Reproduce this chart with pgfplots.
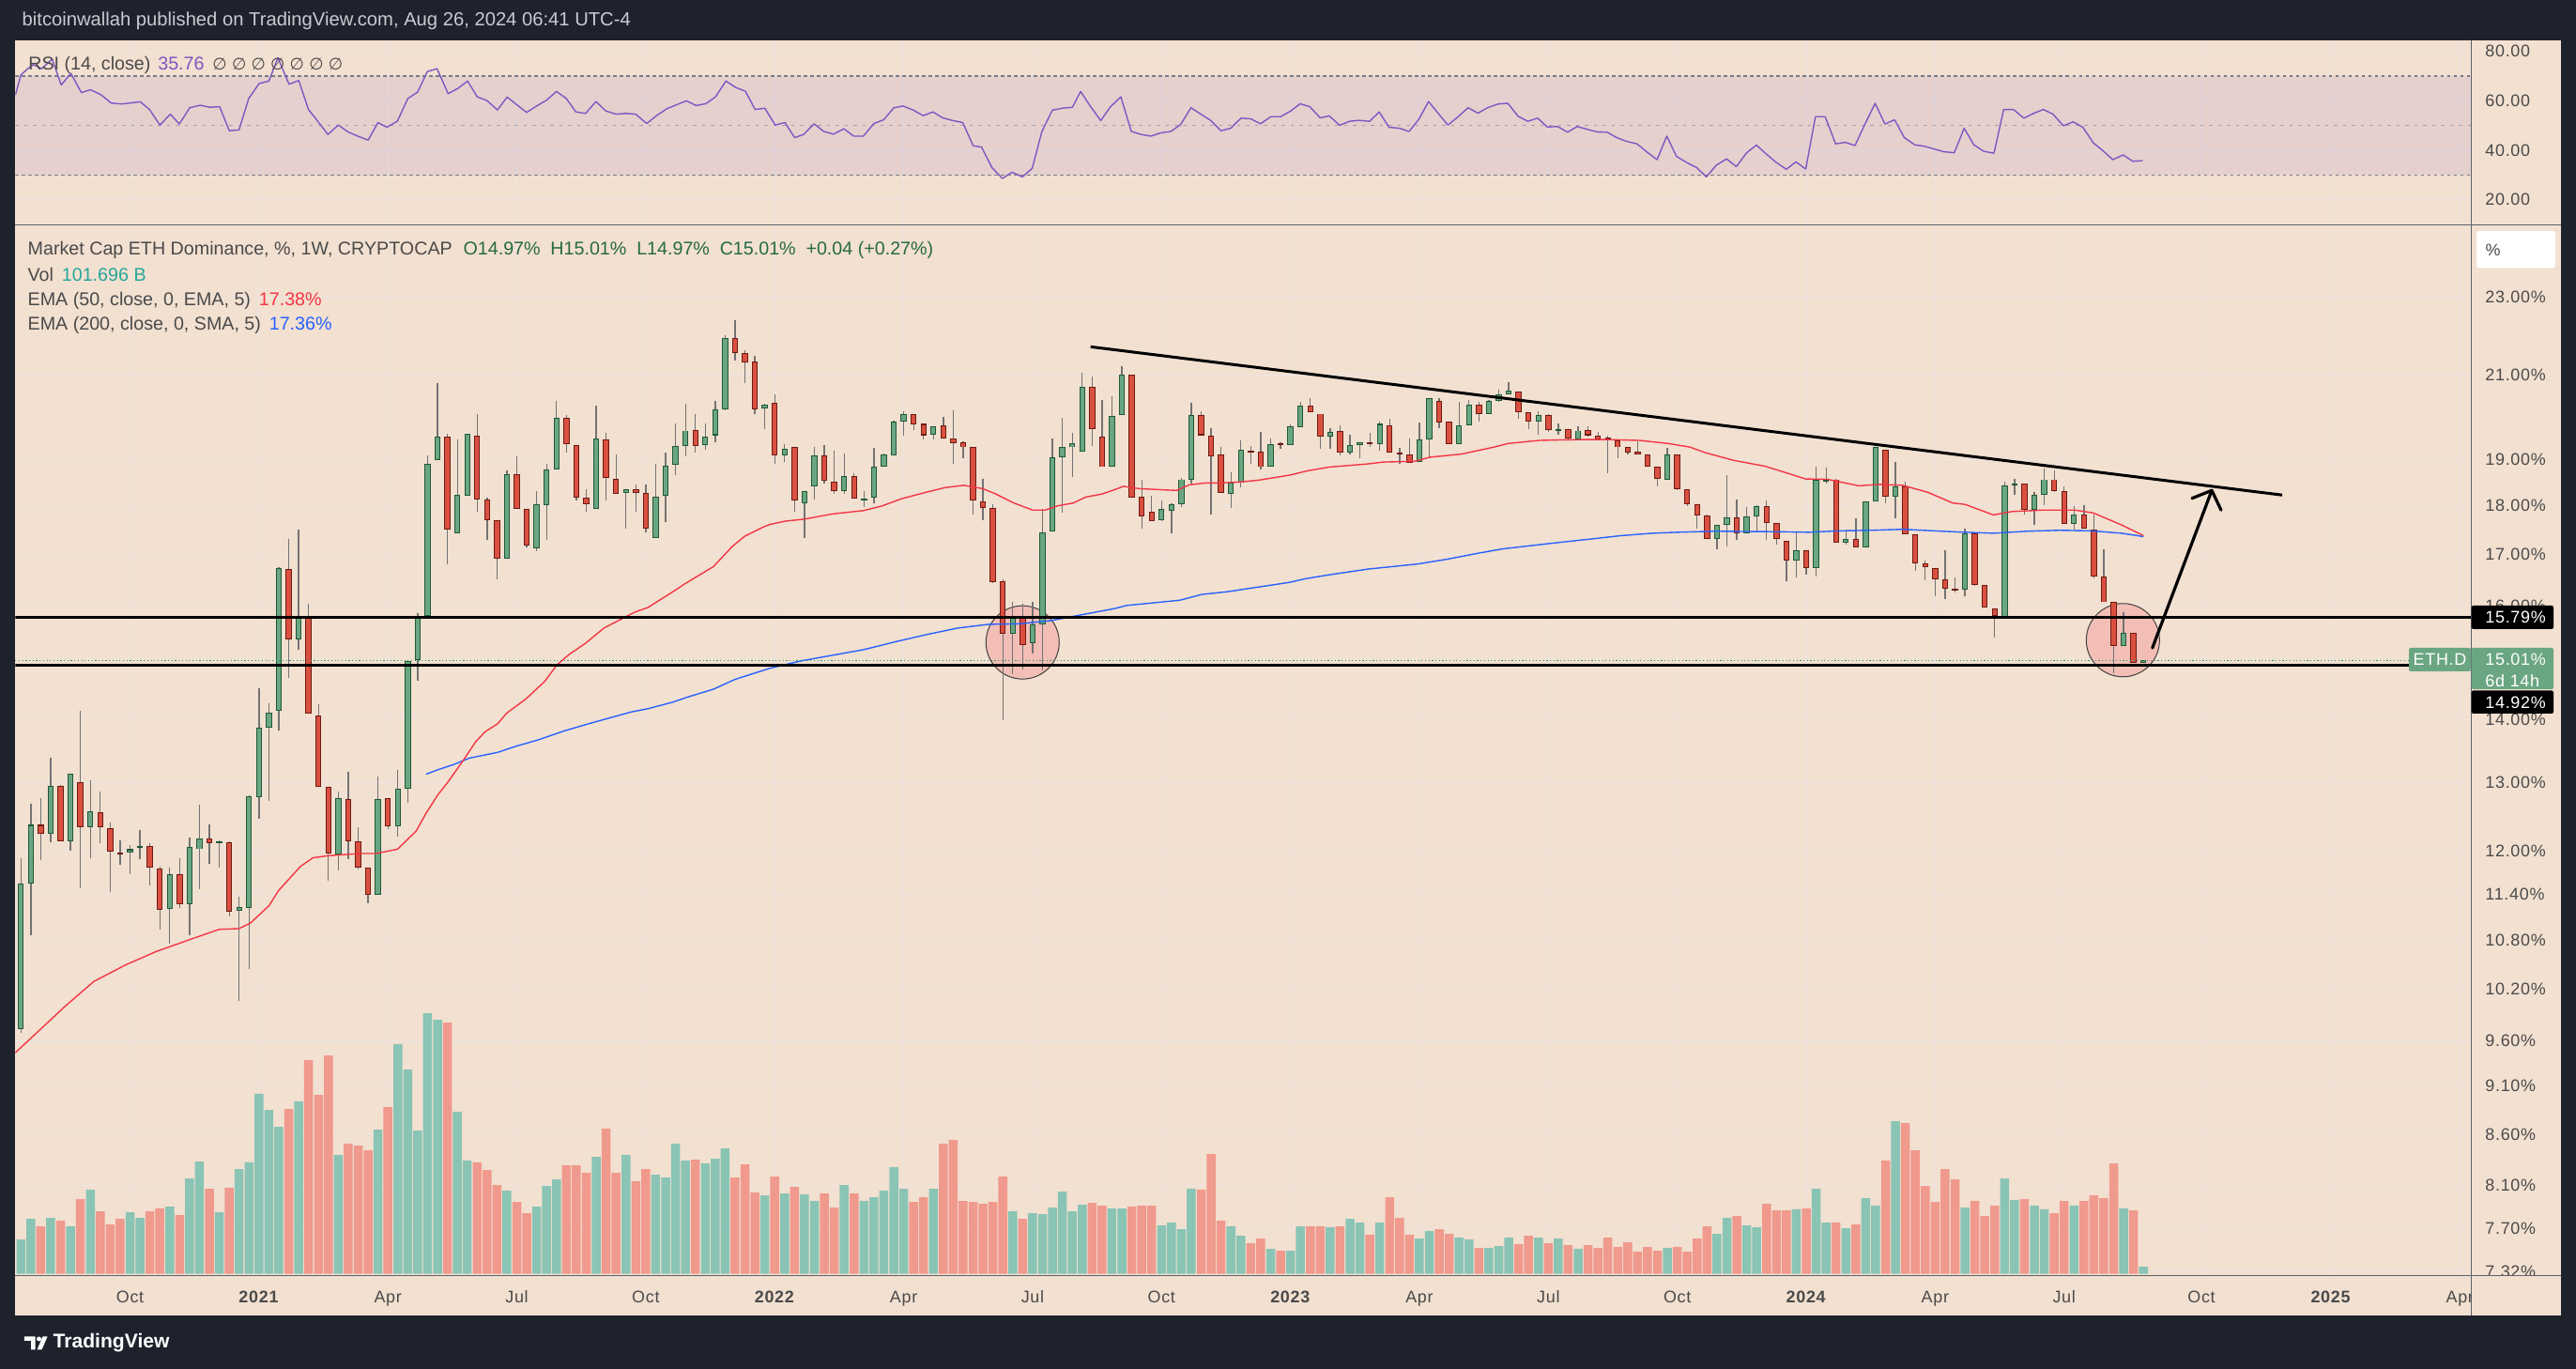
\documentclass[border=0pt]{standalone}
\usepackage{fontspec}
\setmainfont{Liberation Sans}
\newfontfamily\axf[LetterSpace=4]{Liberation Sans}
\newfontfamily\djv{DejaVu Sans}
\usepackage{pgfplots}
\pgfplotsset{compat=1.18}
\usepackage{pgfplotstable}

\definecolor{tvdark}{RGB}{30,34,45}
\definecolor{peach}{RGB}{242,224,208}
\definecolor{gridc}{RGB}{236,229,227}
\definecolor{sepc}{RGB}{94,96,107}
\definecolor{labc}{RGB}{74,74,74}
\definecolor{upfill}{RGB}{107,166,130}
\definecolor{upline}{RGB}{30,90,55}
\definecolor{dnfill}{RGB}{218,80,64}
\definecolor{dnline}{RGB}{110,26,18}
\definecolor{wickc}{RGB}{115,115,115}
\definecolor{volup}{RGB}{138,196,181}
\definecolor{voldn}{RGB}{240,153,141}
\definecolor{emared}{RGB}{242,54,69}
\definecolor{emablue}{RGB}{41,98,255}
\definecolor{rsic}{RGB}{126,87,194}
\definecolor{circfill}{RGB}{242,190,182}
\definecolor{txtgreen}{RGB}{40,150,110}
\definecolor{ohlcc}{RGB}{38,105,68}
\definecolor{voltxt}{RGB}{38,166,154}
\definecolor{hdrc}{RGB}{200,203,210}
\definecolor{dashc}{RGB}{120,123,134}
\definecolor{dashl}{RGB}{160,160,168}

% weekly candles: index, open, high, low, close (%), volume (B)
\pgfplotstableread{
i o h l c v
1 9.73 11.90 9.69 11.55 486
2 11.55 12.68 10.86 12.37 778
3 12.37 12.77 11.87 12.24 672
4 12.24 13.39 12.12 12.95 791
5 12.95 12.97 12.13 12.13 751
6 12.13 13.14 12.00 13.14 672
7 13.01 14.14 11.48 12.33 1056
8 12.33 13.04 11.90 12.57 1189
9 12.56 12.86 12.11 12.33 884
10 12.32 12.40 11.43 11.99 698
11 11.98 12.14 11.80 11.96 778
12 11.97 12.08 11.67 12.02 871
13 12.04 12.29 11.88 12.06 791
14 12.06 12.10 11.52 11.76 884
15 11.75 11.78 10.94 11.19 924
16 11.21 11.77 10.76 11.67 950
17 11.67 11.90 11.22 11.27 831
18 11.27 12.19 10.87 12.05 1348
19 12.02 12.66 11.47 12.17 1587
20 12.17 12.37 11.82 12.11 1202
21 12.11 12.15 11.77 12.13 871
22 12.12 12.13 11.11 11.17 1216
23 11.18 11.37 10.06 11.23 1481
24 11.22 12.81 10.44 12.79 1574
25 12.78 14.53 12.46 13.87 2542
26 13.87 14.27 12.72 14.12 2316
27 14.14 16.75 13.82 16.73 2077
28 16.71 17.32 14.71 15.38 2329
29 15.38 17.50 15.19 15.82 2435
30 15.82 16.04 14.10 14.10 3019
31 14.07 14.25 12.94 12.94 2528
32 12.94 12.94 11.58 11.96 3085
33 11.95 12.86 11.72 12.76 1680
34 12.75 13.16 11.88 12.13 1839
35 12.13 12.33 11.74 11.77 1812
36 11.76 11.76 11.28 11.39 1746
37 11.39 13.10 11.39 12.75 2038
38 12.76 12.76 12.31 12.35 2356
39 12.35 13.19 12.20 12.91 3244
40 12.91 15.01 12.69 15.00 2886
41 15.01 15.87 14.66 15.82 2024
42 15.82 19.10 15.82 18.92 3682
43 18.99 20.80 18.99 19.52 3589
44 19.52 19.59 16.81 17.51 3549
45 17.43 19.46 17.43 18.24 2290
46 18.22 19.60 18.22 19.60 1600
47 19.56 20.05 17.88 18.14 1574
48 18.14 18.17 17.29 17.70 1467
49 17.70 17.70 16.51 16.92 1255
50 16.92 18.76 16.92 18.69 1176
51 18.69 19.08 17.94 17.94 1017
52 17.94 17.94 17.14 17.18 857
53 17.13 18.31 17.06 18.04 950
54 18.02 18.91 17.29 18.79 1242
55 18.79 20.36 18.79 19.97 1335
56 19.97 20.02 19.16 19.35 1534
57 19.34 19.34 18.11 18.17 1534
58 18.17 18.35 17.88 18.04 1428
59 17.94 20.25 17.94 19.49 1653
60 19.47 19.62 18.11 18.61 2051
61 18.59 19.13 18.26 18.26 1428
62 18.28 18.36 17.53 18.36 1680
63 18.36 18.45 17.88 18.28 1308
64 18.28 18.46 17.45 17.53 1481
65 17.34 18.92 17.34 18.20 1401
66 18.22 19.16 17.66 18.88 1361
67 18.90 19.82 18.66 19.32 1839
68 19.32 20.29 19.08 19.67 1600
69 19.68 20.06 19.16 19.32 1613
70 19.34 19.84 19.23 19.52 1560
71 19.56 20.36 19.41 20.15 1627
72 20.15 21.99 20.13 21.92 1772
73 21.92 22.39 21.36 21.53 1361
74 21.55 21.60 20.79 21.30 1547
75 21.32 21.48 20.06 20.15 1149
76 20.18 20.30 19.70 20.28 1109
77 20.31 20.51 18.92 19.11 1375
78 19.11 19.36 18.96 19.25 1136
79 19.28 19.30 17.88 18.12 1229
80 18.06 18.32 17.34 18.32 1123
81 18.41 19.28 18.14 19.10 1030
82 19.11 19.33 18.47 18.53 1136
83 18.51 19.20 18.26 18.31 937
84 18.31 19.15 18.26 18.64 1255
85 18.64 18.71 18.15 18.15 1136
86 18.15 18.31 17.98 18.16 1030
87 18.17 19.26 18.06 18.86 1083
88 18.86 19.14 18.86 19.13 1176
89 19.11 19.89 19.11 19.88 1507
90 19.88 20.11 19.56 20.04 1202
91 20.04 20.05 19.69 19.81 1017
92 19.82 19.82 19.47 19.56 1083
93 19.58 19.77 19.46 19.77 1202
94 19.79 19.98 19.49 19.49 1839
95 19.49 20.14 18.92 19.38 1892
96 19.41 19.43 19.03 19.28 1030
97 19.28 19.28 17.81 18.11 1017
98 18.09 18.58 17.70 17.96 990
99 17.96 18.04 16.43 16.46 1017
100 16.48 16.51 13.99 15.49 1375
101 15.49 16.07 14.76 15.78 884
102 15.78 16.04 14.85 15.29 778
103 15.31 16.08 15.13 15.66 857
104 15.66 17.94 14.83 17.45 844
105 17.47 19.48 17.47 19.06 937
106 19.07 19.96 17.85 19.28 1162
107 19.28 19.62 18.63 19.37 884
108 19.19 21.05 19.19 20.70 977
109 20.70 20.95 19.32 19.70 1003
110 19.52 20.38 18.84 18.84 964
111 18.86 20.47 18.86 20.01 924
112 20.02 21.22 20.02 20.99 924
113 20.99 21.00 18.17 18.17 950
114 18.19 18.56 17.53 17.78 964
115 17.87 18.21 17.68 17.68 964
116 17.70 18.11 17.68 17.94 685
117 17.90 18.05 17.43 18.04 725
118 18.04 18.60 17.98 18.57 632
119 18.57 20.31 18.47 20.02 1202
120 20.02 20.11 19.54 19.56 1189
121 19.54 19.72 17.82 19.08 1693
122 19.13 19.28 18.28 18.28 751
123 18.26 18.72 17.96 18.49 672
124 18.49 19.45 18.40 19.23 539
125 19.21 19.31 18.92 19.19 433
126 19.19 19.64 18.79 18.84 499
127 18.86 19.49 18.86 19.36 354
128 19.37 19.41 19.25 19.34 327
129 19.33 19.81 19.33 19.77 327
130 19.75 20.34 19.75 20.25 672
131 20.26 20.43 20.09 20.09 672
132 20.06 20.06 19.25 19.52 672
133 19.52 19.73 19.25 19.63 659
134 19.65 19.78 19.10 19.16 672
135 19.17 19.57 19.12 19.34 778
136 19.34 19.41 19.03 19.41 725
137 19.40 19.62 19.29 19.36 553
138 19.36 19.87 19.21 19.82 725
139 19.79 19.94 19.16 19.16 1083
140 19.16 19.26 18.92 19.13 791
141 19.13 19.48 18.94 18.94 553
142 18.96 19.85 18.96 19.47 499
143 19.47 20.43 19.05 20.42 606
144 20.37 20.42 19.73 19.86 632
145 19.88 19.88 19.36 19.36 566
146 19.36 20.34 19.36 19.79 513
147 19.79 20.39 19.79 20.28 486
148 20.28 20.34 19.88 20.04 367
149 20.04 20.38 20.04 20.37 367
150 20.37 20.64 20.34 20.53 393
151 20.51 20.82 20.51 20.60 513
152 20.58 20.58 19.95 20.09 420
153 20.09 20.09 19.70 19.88 539
154 19.88 20.11 19.57 20.02 513
155 20.02 20.06 19.63 19.69 433
156 19.70 19.82 19.57 19.71 499
157 19.70 19.71 19.44 19.48 407
158 19.47 19.76 19.45 19.67 354
159 19.68 19.76 19.52 19.56 407
160 19.56 19.63 19.46 19.47 367
161 19.50 19.56 18.71 19.48 513
162 19.44 19.46 19.03 19.28 380
163 19.28 19.29 19.13 19.17 446
164 19.18 19.42 19.13 19.13 314
165 19.13 19.13 18.84 18.86 380
166 18.86 18.86 18.42 18.58 327
167 18.57 19.26 18.57 19.13 367
168 19.13 19.13 18.34 18.36 380
169 18.36 18.36 18.00 18.03 314
170 18.04 18.04 17.53 17.80 499
171 17.80 17.82 17.32 17.32 672
172 17.32 17.61 17.11 17.61 566
173 17.61 18.66 17.16 17.76 791
174 17.76 18.13 17.29 17.42 818
175 17.42 17.98 17.42 17.78 685
176 17.78 18.01 17.45 18.00 659
177 18.00 18.12 17.29 17.64 990
178 17.64 17.64 17.19 17.31 897
179 17.28 17.28 16.47 16.88 897
180 16.88 17.45 16.55 17.09 911
181 17.09 17.09 16.60 16.73 924
182 16.73 18.85 16.56 18.56 1202
183 18.55 18.82 18.48 18.57 725
184 18.57 18.58 17.24 17.24 725
185 17.24 17.51 17.19 17.32 645
186 17.32 17.73 17.15 17.15 698
187 17.15 18.10 17.15 18.09 1070
188 18.09 19.30 18.09 19.29 964
189 19.23 19.23 18.05 18.19 1600
190 18.19 18.95 17.73 18.42 2157
191 18.42 18.51 17.40 17.40 2130
192 17.40 17.40 16.67 16.82 1746
193 16.82 16.87 16.50 16.74 1242
194 16.73 16.73 16.18 16.51 1017
195 16.51 17.08 16.14 16.33 1481
196 16.33 16.54 16.25 16.30 1335
197 16.31 17.52 16.18 17.43 937
198 17.43 17.44 16.39 16.40 1030
199 16.40 16.41 15.97 15.97 818
200 15.96 15.96 15.42 15.81 964
201 15.80 18.51 15.80 18.44 1348
202 18.46 18.58 18.24 18.48 1043
203 18.47 18.47 17.81 17.91 1056
204 17.91 18.29 17.60 18.24 964
205 18.24 18.81 18.01 18.57 911
206 18.57 18.76 18.29 18.31 857
207 18.31 18.42 17.62 17.62 1030
208 17.62 18.00 17.51 17.82 964
209 17.82 18.02 17.52 17.52 1030
210 17.51 17.82 16.52 16.57 1109
211 16.57 17.10 16.07 16.07 1070
212 16.08 16.08 14.78 15.26 1560
213 15.26 15.89 15.26 15.51 924
214 15.51 15.51 14.96 14.96 897
215 14.97 15.01 14.97 15.01 102
}\candles

\pgfplotsset{
  tvpane/.style={scale only axis, width=26.16cm, anchor=south west,
    xmin=0.432, xmax=248.04, axis line style={draw=none},
    major tick length=0pt, minor tick length=0pt, tick style={draw=none},
    tick label style={font=\axf\fontsize{5.1}{6}\selectfont, text=labc},
    major grid style={draw=gridc, line width=0.01cm}},
  mainbox/.style={tvpane, at={(0.163cm,0.994cm)}, height=11.193cm},
  datex/.style={xtick={12,25,38,51,64,77,90,103,116,129,142,155,168,181,194,207,220.85,233.9,246.9}},
  upc/.style={restrict expr to domain={\thisrow{c}-\thisrow{o}}{0:1000}},
  dnc/.style={restrict expr to domain={\thisrow{c}-\thisrow{o}}{-1000:-0.00001}},
  nomark/.style={only marks, mark=none, mark size=0pt, mark options={draw=none, fill=none}},
}

\begin{document}
\begin{tikzpicture}
\useasboundingbox (0,0) rectangle (27.44,14.58);
\fill[tvdark] (0,0) rectangle (27.44,14.58);
\fill[peach] (0.163,0.57) rectangle (27.277,14.146);

% ---------- RSI pane ----------
\begin{axis}[tvpane, at={(0.163cm,12.187cm)}, height=1.959cm,
  ymin=9.9, ymax=84.3, datex, xticklabels={},
  ytick={20,40,60,80}, yticklabels={20.00,40.00,60.00,80.00},
  yticklabel pos=right, yticklabel style={anchor=west, inner sep=0pt, xshift=0.144cm},
  grid=major]
\addplot[draw=none, fill=rsic, fill opacity=0.11]
  coordinates {(0.432,30) (248.04,30) (248.04,70) (0.432,70) (0.432,30)};
\addplot[dashc, line width=0.011cm, dash pattern=on 0.035cm off 0.035cm]
  coordinates {(0.432,70) (248.04,70)};
\addplot[dashc, line width=0.011cm, dash pattern=on 0.035cm off 0.035cm]
  coordinates {(0.432,30) (248.04,30)};
\addplot[dashl, line width=0.01cm, dash pattern=on 0.035cm off 0.06cm]
  coordinates {(0.432,50) (248.04,50)};
\addplot[rsic, line width=0.014cm, line join=round] coordinates {
(0.44,62.3)(1.0,70.5)(1.7,73.0)(2.26,74.6)(3.1,73.0)(3.8,75.6)(4.15,76.9)(5.06,66.4)(6.04,71.1)(7.09,63.3)
(8.0,64.5)(9.05,62.5)(10.1,59.1)(11.15,58.7)(12.2,59.2)(13.04,59.6)(13.96,56.5)(15.01,50.2)(16.06,54.6)(16.97,50.6)
(18.02,57.2)(19.07,58.2)(20.05,57.4)(21.03,57.6)(22.01,47.9)(22.99,48.2)(23.97,61.0)(25.02,67.0)(26.0,68.0)(26.91,77.4)
(28.03,66.7)(29.01,68.2)(29.99,56.5)(30.97,51.5)(31.95,46.4)(33.0,50.2)(33.98,47.4)(34.96,45.7)(36.01,44.1)(37.0,51.2)
(37.9,49.3)(38.96,51.8)(40.01,60.9)(40.99,63.5)(41.97,71.8)(42.95,73.0)(44.07,62.9)(45.05,65.0)(46.03,68.0)(47.01,61.6)
(47.99,60.1)(49.04,56.3)(50.02,61.5)(51.0,58.4)(51.98,55.3)(52.96,57.8)(54.01,60.3)(54.99,63.8)(55.97,61.0)(56.95,55.5)
(57.93,54.9)(58.98,59.7)(59.96,55.9)(61.01,54.6)(61.99,54.9)(62.97,54.6)(64.1,50.8)(65.08,54.0)(66.13,56.8)(67.11,58.4)
(68.09,60.0)(69.07,58.1)(70.05,58.8)(71.03,61.6)(72.08,68.0)(73.06,65.4)(74.04,63.9)(75.02,56.5)(76.0,57.0)(77.05,50.2)
(78.03,51.2)(79.01,45.1)(79.92,46.4)(80.97,50.7)(81.95,47.6)(82.93,46.5)(83.98,48.7)(84.96,45.7)(85.94,45.7)(86.99,50.8)
(87.97,52.3)(89.03,57.2)(89.94,57.9)(90.99,56.2)(91.97,54.0)(92.95,55.5)(93.93,53.1)(94.98,52.0)(95.96,51.2)(97.01,41.8)
(97.85,41.3)(98.9,33.0)(99.95,28.6)(100.93,31.1)(101.98,29.2)(102.96,32.7)(103.94,47.6)(104.99,56.2)(105.97,57.0)(107.02,57.4)
(107.84,63.8)(108.82,57.8)(109.87,52.0)(110.85,57.6)(111.9,61.6)(112.95,47.6)(113.93,46.4)(114.91,45.7)(115.89,47.0)(116.94,47.6)
(117.92,50.4)(118.97,57.2)(119.96,54.6)(120.94,52.1)(121.99,47.9)(122.97,48.9)(124.02,53.0)(125.0,52.7)(125.98,50.7)(127.03,53.6)
(128.01,53.6)(128.99,55.8)(129.97,58.8)(130.95,57.6)(132.0,53.1)(132.91,53.9)(133.96,50.1)(134.94,51.7)(135.92,52.1)(136.97,51.7)
(137.95,55.5)(138.93,49.3)(139.98,48.9)(140.96,47.6)(141.94,52.5)(142.92,59.7)(143.9,54.9)(144.88,50.2)(145.94,53.7)(146.91,57.2)
(147.9,55.0)(148.88,57.2)(149.93,58.7)(150.91,59.0)(151.96,53.7)(152.94,51.7)(153.92,53.0)(154.9,49.4)(155.95,49.6)(156.93,47.3)
(157.91,49.6)(158.89,48.5)(159.94,47.4)(160.92,47.3)(161.9,45.1)(162.88,43.6)(163.93,42.6)(164.91,39.4)(165.96,36.2)(166.94,45.7)
(167.92,37.5)(168.97,35.0)(169.95,33.0)(170.93,29.2)(171.92,33.9)(172.97,36.5)(173.95,33.4)(175.0,39.0)(175.98,42.1)(176.96,38.5)
(177.94,35.2)(178.99,32.3)(179.97,35.3)(180.95,32.4)(181.93,53.6)(182.91,53.6)(183.96,42.6)(184.94,43.2)(185.92,41.9)(186.9,50.4)
(187.95,59.0)(188.93,50.6)(189.91,52.3)(190.89,45.1)(191.94,42.2)(192.92,41.6)(193.9,40.5)(194.88,39.4)(195.93,39.0)(196.92,48.9)
(197.9,42.2)(198.88,39.6)(199.93,38.8)(200.91,56.5)(201.89,56.5)(202.94,53.0)(203.92,54.9)(204.9,56.5)(205.88,54.6)(206.93,49.9)
(207.91,51.5)(208.89,49.3)(209.94,43.0)(210.92,39.8)(211.9,36.2)(212.96,38.1)(213.94,35.5)(214.91,35.8)};
\end{axis}

% ---------- main pane: grid and labels ----------
\begin{axis}[ymode=log, mainbox, ymin=7.2825, ymax=25.05, datex,
  xticklabels={Oct,\textbf{2021},Apr,Jul,Oct,\textbf{2022},Apr,Jul,Oct,\textbf{2023},Apr,Jul,Oct,\textbf{2024},Apr,Jul,Oct,\textbf{2025},Apr},
  xticklabel style={anchor=base, inner sep=0pt, yshift=-0.289cm},
  ytick={7.32,7.7,8.1,8.6,9.1,9.6,10.2,10.8,11.4,12,13,14,16,17,18,19,21,23},
  yticklabels={7.32\%,7.70\%,8.10\%,8.60\%,9.10\%,9.60\%,10.20\%,10.80\%,11.40\%,12.00\%,13.00\%,14.00\%,16.00\%,17.00\%,18.00\%,19.00\%,21.00\%,23.00\%},
  yticklabel pos=right, yticklabel style={anchor=west, inner sep=0pt, xshift=0.144cm},
  grid=major]
\addplot[draw=none] coordinates {(1,10)};
\end{axis}

% ---------- volume ----------
\begin{axis}[mainbox, ymin=-25, ymax=14817, xtick=\empty, ytick=\empty]
\addplot[ybar, bar width=0.9, fill=volup, draw=none, upc] table[x=i, y=v] {\candles};
\addplot[ybar, bar width=0.9, fill=voldn, draw=none, dnc] table[x=i, y=v] {\candles};
\end{axis}

% ---------- candles, averages, drawings ----------
\begin{axis}[ymode=log, mainbox, ymin=7.2825, ymax=25.05, xtick=\empty, ytick=\empty, clip marker paths=true]
\addplot[only marks, mark=*, mark size=11.1pt, mark options={fill=circfill, draw=black!75, line width=0.01cm}]
  coordinates {(101.99,15.33) (212.93,15.37)};
% wicks
\addplot[nomark, error bars/.cd, y dir=minus, y explicit, error mark=none,
  error bar style={line width=0.013cm, draw=wickc}]
  table[x=i, y=h, y error minus expr={\thisrow{h}-\thisrow{l}}] {\candles};
% rising bodies
\addplot[nomark, upc, error bars/.cd, y dir=minus, y explicit, error mark=none,
  error bar style={line width=0.064cm, draw=upline}]
  table[x=i, y=c, y error minus expr={max(\thisrow{c}-\thisrow{o},0.0022*\thisrow{c})}] {\candles};
\addplot[nomark, upc, error bars/.cd, y dir=minus, y explicit, error mark=none,
  error bar style={line width=0.044cm, draw=upfill}]
  table[x=i, y expr={\thisrow{c}/1.0011}, y error minus expr={max(0,\thisrow{c}/1.0011-\thisrow{o}*1.0011)}] {\candles};
% falling bodies
\addplot[nomark, dnc, error bars/.cd, y dir=minus, y explicit, error mark=none,
  error bar style={line width=0.064cm, draw=dnline}]
  table[x=i, y=o, y error minus expr={max(\thisrow{o}-\thisrow{c},0.0022*\thisrow{o})}] {\candles};
\addplot[nomark, dnc, error bars/.cd, y dir=minus, y explicit, error mark=none,
  error bar style={line width=0.044cm, draw=dnfill}]
  table[x=i, y expr={\thisrow{o}/1.0011}, y error minus expr={max(0,\thisrow{o}/1.0011-\thisrow{c}*1.0011)}] {\candles};
% EMA 200
\addplot[emablue, line width=0.014cm] coordinates {
(41.86,13.13)(43.06,13.20)(44.64,13.28)(46.22,13.38)(49.05,13.47)(50.95,13.57)(53.16,13.67)(55.68,13.81)(58.20,13.93)(60.41,14.03)
(62.62,14.13)(64.20,14.18)(66.72,14.29)(68.30,14.38)(70.82,14.51)(73.03,14.68)(76.50,14.87)(79.66,15.00)(82.81,15.10)(85.97,15.20)
(89.12,15.34)(92.28,15.47)(95.43,15.59)(98.59,15.66)(101.74,15.67)(104.90,15.73)(108.05,15.84)(111.21,15.95)(112.47,16.01)(116.25,16.08)
(117.84,16.11)(120.05,16.22)(122.57,16.27)(125.73,16.36)(128.88,16.45)(130.46,16.52)(132.67,16.59)(136.77,16.71)(141.82,16.81)(144.66,16.90)
(147.81,17.02)(150.33,17.11)(156.01,17.24)(159.17,17.31)(162.32,17.38)(165.48,17.43)(168.00,17.45)(171.79,17.47)(178.10,17.46)(181.25,17.45)
(184.41,17.48)(187.56,17.49)(190.72,17.51)(195.76,17.46)(197.03,17.45)(199.86,17.43)(203.34,17.47)(206.49,17.49)(209.65,17.48)(212.80,17.43)
(215.01,17.36)};
% EMA 50
\addplot[emared, line width=0.014cm] coordinates {
(0.40,9.46)(2.99,9.73)(5.51,10.00)(8.35,10.29)(11.51,10.49)(14.66,10.66)(17.82,10.80)(20.97,10.94)(22.99,10.95)(24.13,11.02)
(26.02,11.25)(26.97,11.45)(29.18,11.78)(30.44,11.90)(32.02,11.93)(35.17,11.96)(36.75,11.96)(38.96,12.02)(40.85,12.28)(41.80,12.53)
(43.06,12.82)(44.01,13.00)(45.58,13.34)(46.85,13.64)(47.79,13.80)(49.05,13.93)(50.00,14.11)(51.89,14.34)(53.79,14.64)(55.05,14.93)
(56.31,15.12)(57.89,15.31)(59.78,15.59)(61.99,15.80)(62.94,15.89)(64.20,15.97)(66.72,16.27)(67.99,16.43)(70.82,16.76)(72.72,17.16)
(73.98,17.37)(75.87,17.56)(76.50,17.61)(78.08,17.68)(79.97,17.72)(82.81,17.83)(85.97,17.90)(87.86,18.00)(89.75,18.15)(92.28,18.29)
(94.17,18.39)(96.06,18.44)(97.95,18.37)(99.22,18.26)(101.11,18.06)(103.00,17.91)(104.26,17.91)(105.53,18.00)(107.10,18.06)(108.37,18.19)
(109.94,18.25)(111.21,18.34)(112.15,18.42)(113.73,18.37)(116.25,18.34)(117.52,18.33)(118.78,18.45)(120.36,18.49)(121.62,18.49)(123.83,18.51)
(125.73,18.55)(128.88,18.66)(130.77,18.76)(132.98,18.84)(136.77,18.91)(138.35,18.95)(141.50,18.97)(143.08,19.06)(146.23,19.13)(149.39,19.28)
(150.96,19.37)(154.12,19.44)(156.01,19.45)(158.53,19.46)(161.06,19.46)(164.21,19.44)(167.05,19.37)(169.26,19.29)(170.84,19.16)(173.68,18.99)
(176.83,18.86)(178.73,18.73)(180.93,18.58)(183.14,18.57)(186.30,18.43)(188.51,18.46)(190.71,18.44)(193.24,18.29)(195.76,18.06)(197.03,18.03)
(199.86,17.81)(201.76,17.88)(204.91,17.91)(208.07,17.91)(209.96,17.85)(212.80,17.60)(215.01,17.38)};
% support lines, price line, trend line, arrow
\addplot[black, line width=0.026cm] coordinates {(0.432,15.79) (248.04,15.79)};
\addplot[black, line width=0.026cm] coordinates {(0.432,14.92) (248.04,14.92)};
\addplot[txtgreen, line width=0.01cm, dash pattern=on 0.012cm off 0.025cm] coordinates {(0.432,15.01) (248.04,15.01)};
\addplot[black, line width=0.03cm] coordinates {(108.85,21.70) (228.99,18.23)};
\addplot[black, line width=0.032cm, line cap=round] coordinates {(215.90,15.23) (221.89,18.33)};
\addplot[black, line width=0.032cm, line cap=round, line join=round] coordinates {(219.90,18.16) (221.89,18.33) (222.83,17.91)};
\end{axis}

% ---------- frame, separators, price-scale labels ----------
\fill[peach] (26.33,0.57) rectangle (27.277,0.99);
\draw[sepc, line width=0.012cm] (26.323,0.57) -- (26.323,14.146);
\draw[sepc, line width=0.012cm] (0.163,12.187) -- (27.277,12.187);
\draw[sepc, line width=0.012cm] (0.163,0.994) -- (27.277,0.994);

\begin{scope}[every node/.style={inner sep=0pt, font=\axf\fontsize{5.1}{6}\selectfont}]
\fill[white, rounded corners=0.03cm] (26.38,11.725) rectangle (27.22,12.12);
\node[anchor=west, text=labc] at (26.47,11.92) {\%};
\fill[black, rounded corners=0.02cm] (26.327,7.88) rectangle (27.20,8.13);
\node[anchor=west, text=white] at (26.467,8.005) {15.79\%};
\fill[upfill, rounded corners=0.02cm] (25.66,7.43) rectangle (26.32,7.68);
\node[text=white] at (25.99,7.555) {ETH.D};
\fill[upfill, rounded corners=0.02cm] (26.327,7.24) rectangle (27.20,7.68);
\node[anchor=west, text=white] at (26.467,7.56) {15.01\%};
\node[anchor=west, text=white] at (26.467,7.33) {6d 14h};
\fill[black, rounded corners=0.02cm] (26.327,6.98) rectangle (27.20,7.225);
\node[anchor=west, text=white] at (26.467,7.10) {14.92\%};
\end{scope}

% ---------- legends ----------
\begin{scope}[every node/.style={inner sep=0pt, anchor=west, text=labc, font=\fontsize{5.6}{7}\selectfont}]
\node at (0.296,13.887) {RSI (14, close)\hspace{0.4em}\textcolor{rsic}{35.76}\hspace{0.45em}{\djv\fontsize{5}{6}\selectfont ∅\hspace{0.3em}∅\hspace{0.3em}∅\hspace{0.3em}∅\hspace{0.3em}∅\hspace{0.3em}∅\hspace{0.3em}∅}};
\node at (0.29,11.92) {Market Cap ETH Dominance, \%, 1W, CRYPTOCAP\hspace{0.6em}\textcolor{ohlcc}{O14.97\%\hspace{0.55em}H15.01\%\hspace{0.55em}L14.97\%\hspace{0.55em}C15.01\%\hspace{0.55em}+0.04 (+0.27\%)}};
\node at (0.29,11.653) {Vol\hspace{0.45em}\textcolor{voltxt}{101.696 B}};
\node at (0.29,11.38) {EMA (50, close, 0, EMA, 5)\hspace{0.45em}\textcolor{emared}{17.38\%}};
\node at (0.29,11.113) {EMA (200, close, 0, SMA, 5)\hspace{0.45em}\textcolor{emablue}{17.36\%}};
\end{scope}

% ---------- header and footer ----------
\node[anchor=west, inner sep=0pt, text=hdrc, font=\fontsize{5.75}{7}\selectfont] at (0.23,14.36)
  {bitcoinwallah published on TradingView.com, Aug 26, 2024 06:41 UTC-4};
\fill[white] (0.26,0.345) -- (0.375,0.345) -- (0.375,0.205) -- (0.33,0.205) -- (0.33,0.30) -- (0.26,0.30) -- cycle;
\fill[white] (0.415,0.32) circle (0.025);
\fill[white] (0.395,0.205) -- (0.455,0.345) -- (0.505,0.345) -- (0.445,0.205) -- cycle;
\node[anchor=west, inner sep=0pt, text=white, font=\bfseries\fontsize{6}{7}\selectfont] at (0.56,0.275) {TradingView};
\end{tikzpicture}
\end{document}
